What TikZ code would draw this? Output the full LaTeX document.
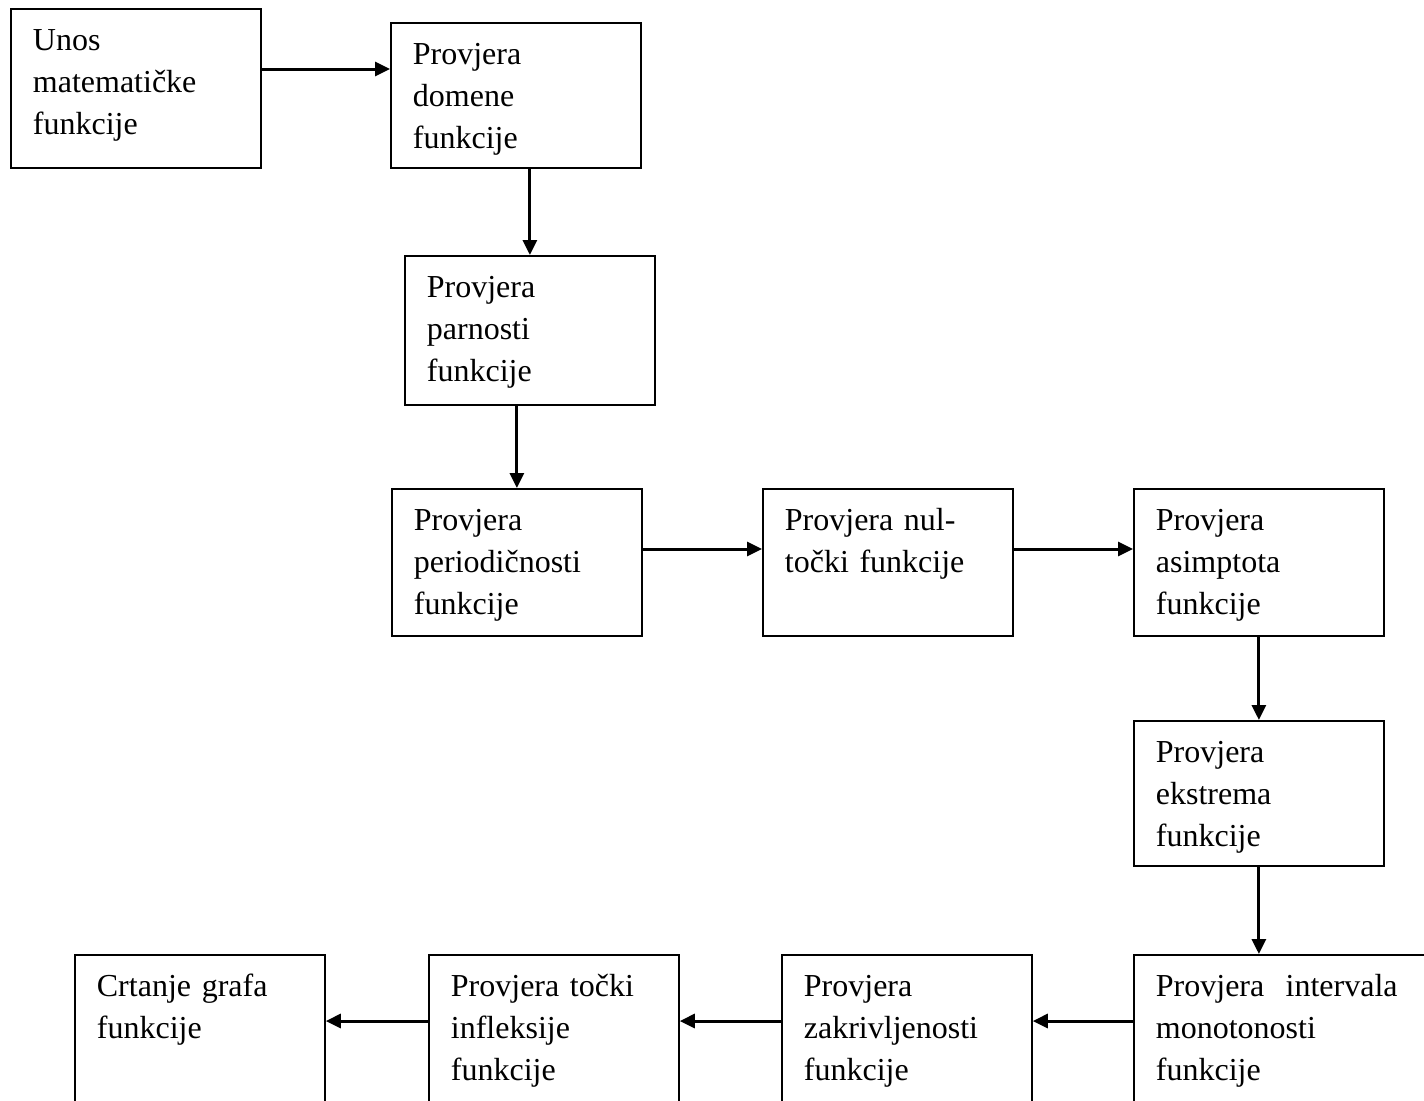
\documentclass[tikz,border=0pt]{standalone}
\usepackage{fontspec}
\setmainfont{Liberation Serif}
\usepackage{tikz}
\usetikzlibrary{arrows.meta}

\begin{document}
\begin{tikzpicture}[x=0.5pt, y=-0.5pt,
        main/.style = {draw, line width=0.9pt, anchor=north west, align=left,
                text width=103pt, inner xsep=11pt, inner ysep=10pt,
                text height=11pt, text depth=#1,
                font=\fontsize{16pt}{21pt}\selectfont},
        main/.default = 42.5pt,
        arr/.style = {line width=1.5pt, -{Triangle[length=7.5pt, width=7pt]}}]
                \useasboundingbox (0, 0) rectangle (1424, 1100);
                \clip (0, 0) rectangle (1424, 1100);

                \node[main=48.5pt] at (10, 8) (A) {Unos\\ matematičke\\ funkcije};
                \node[main=41.5pt] at (390, 22) (B) {Provjera\\ domene\\ funkcije};
                \node[main=43.5pt] at (404, 255) (C) {Provjera\\ parnosti\\ funkcije};
                \node[main] at (391, 488) (D) {Provjera\\ periodičnosti\\ funkcije};
                \node[main] at (762, 488) (E) {Provjera nul-\\ točki funkcije};
                \node[main] at (1133, 488) (F) {Provjera\\ asimptota\\ funkcije};
                \node[main=41.5pt] at (1133, 720) (G) {Provjera\\ ekstrema\\ funkcije};
                \node[main=54pt, text width=143pt] at (1133, 954) (H) {Provjera\ \ intervala\\ monotonosti\\ funkcije};
                \node[main=54pt] at (781, 954) (I) {Provjera\\ zakrivljenosti\\ funkcije};
                \node[main=54pt] at (428, 954) (J) {Provjera točki\\ infleksije\\ funkcije};
                \node[main=54pt] at (74, 954) (K) {Crtanje grafa\\ funkcije};

                % heights of the horizontal arrows
                \coordinate (r1) at (0, 69);
                \coordinate (r2) at (0, 549);
                \coordinate (r3) at (0, 1021);

                \draw [arr] (A.east |- r1) -- (B.west |- r1);
                \draw [arr] (B.south -| C.north) -- (C.north);
                \draw [arr] (C.south -| D.north) -- (D.north);
                \draw [arr] (D.east |- r2) -- (E.west |- r2);
                \draw [arr] (E.east |- r2) -- (F.west |- r2);
                \draw [arr] (F.south) -- (G.north -| F.south);
                \draw [arr] (G.south) -- (H.north -| G.south);

                \draw [arr] (H.west |- r3) -- (I.east |- r3);
                \draw [arr] (I.west |- r3) -- (J.east |- r3);
                \draw [arr] (J.west |- r3) -- (K.east |- r3);
\end{tikzpicture}
\end{document}
